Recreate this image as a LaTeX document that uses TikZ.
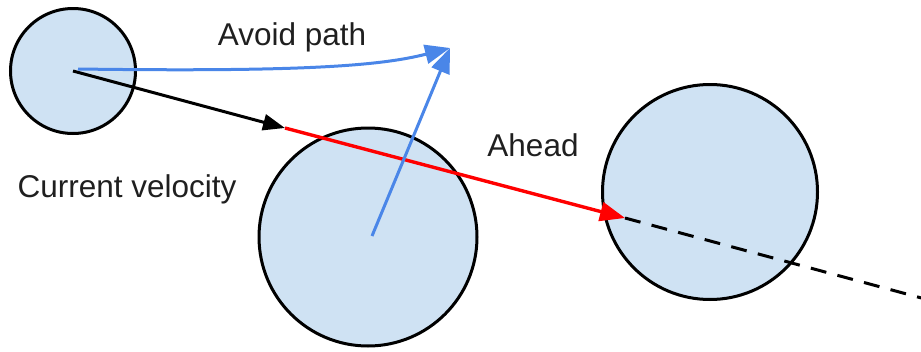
\documentclass[tikz,border=0pt]{standalone}
\usepackage{fontspec}
\setmainfont{Liberation Sans}
\usetikzlibrary{arrows.meta}
\definecolor{ballfill}{HTML}{CFE2F3}
\definecolor{avoidblue}{HTML}{4A86E8}
\definecolor{aheadred}{HTML}{FF0000}
\begin{document}
\begin{tikzpicture}[x=1pt,y=-1pt,
  ball/.style={circle,draw=black,fill=ballfill,line width=3pt,inner sep=0pt,outer sep=0pt},
  lbl/.style={font=\fontsize{31.5}{31.5}\selectfont,text=black!88,anchor=base,inner sep=0pt},
  tipa/.style={-{Triangle[length=22pt,width=16pt]}},
  tipb/.style={-{Triangle[length=25pt,width=19pt]}}]
\useasboundingbox (0,0) rectangle (921,351);
% obstacles
\node[ball,minimum size=125pt] (s) at (73,71) {};
\node[ball,minimum size=218pt] (m) at (368,237) {};
\node[ball,minimum size=215pt] (r) at (710,192) {};
% key points
\coordinate (k1) at (285,128);
\coordinate (k2) at (625,218);
\coordinate (k3) at (940,303);
\coordinate (bs) at (78,69);
\coordinate (ms) at (372,236);
\coordinate (av) at (450,48);
% velocity and ahead
\draw[line width=3pt,dash pattern=on 16pt off 11.5pt] (k2) -- (k3);
\draw[aheadred,line width=3.4pt,tipb] (k1) -- (k2);
\draw[black,line width=3pt,tipa] (s.center) -- (k1);
% avoid path
\draw[avoidblue,line width=3pt,tipb] (bs) .. controls (300,72) and (380,66) .. (av);
\draw[avoidblue,line width=3pt,tipb] (ms) -- (av);
% labels
\node[lbl] (t1) at (292,45) {Avoid path};
\node[lbl] (t2) at (533,156) {Ahead};
\node[lbl] (t3) at (127,197) {Current velocity};
\end{tikzpicture}
\end{document}
